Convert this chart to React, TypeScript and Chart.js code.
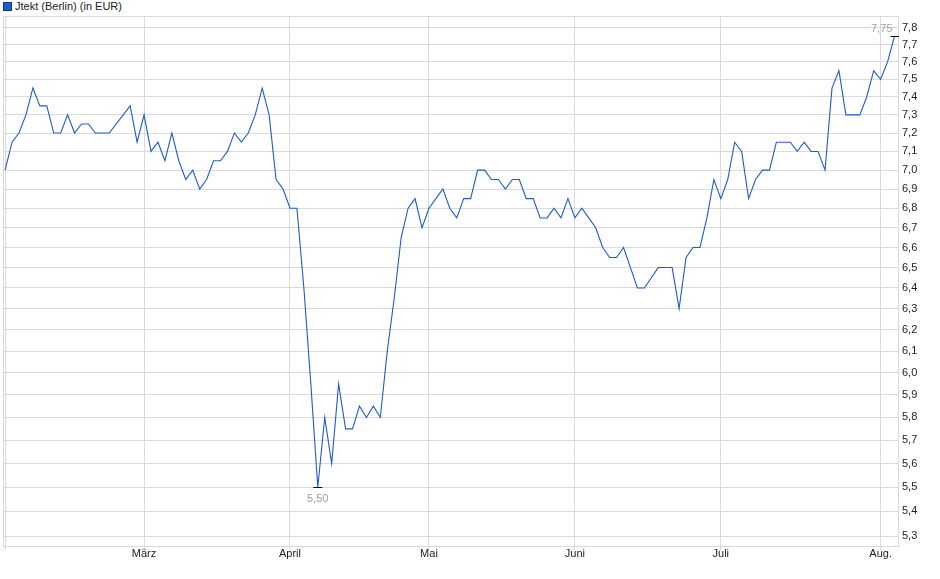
import React, { useEffect, useRef } from "react";
import { Chart, registerables, Plugin } from "chart.js";

Chart.register(...registerables);

// closing prices per month (EUR), one entry per trading day
const febPrices = [7.0, 7.15, 7.2, 7.3, 7.45, 7.35, 7.35, 7.2, 7.2, 7.3, 7.2, 7.25, 7.25, 7.2, 7.2, 7.2, 7.25, 7.3, 7.35, 7.15];
const marPrices = [7.3, 7.1, 7.15, 7.05, 7.2, 7.05, 6.95, 7.0, 6.9, 6.95, 7.05, 7.05, 7.1, 7.2, 7.15, 7.2, 7.3, 7.45, 7.3, 6.95, 6.9];
const aprPrices = [6.8, 6.8, 6.4, 5.95, 5.5, 5.8, 5.6, 5.95, 5.75, 5.75, 5.85, 5.8, 5.85, 5.8, 6.1, 6.35, 6.65, 6.8, 6.85, 6.7];
const mayPrices = [6.8, 6.85, 6.9, 6.8, 6.75, 6.85, 6.85, 7.0, 7.0, 6.95, 6.95, 6.9, 6.95, 6.95, 6.85, 6.85, 6.75, 6.75, 6.8, 6.75, 6.85];
const junPrices = [6.75, 6.8, 6.75, 6.7, 6.6, 6.55, 6.55, 6.6, 6.5, 6.4, 6.4, 6.45, 6.5, 6.5, 6.5, 6.3, 6.55, 6.6, 6.6, 6.75, 6.95];
const julPrices = [6.85, 6.95, 7.15, 7.1, 6.85, 6.95, 7.0, 7.0, 7.15, 7.15, 7.15, 7.1, 7.15, 7.1, 7.1, 7.0, 7.45, 7.55, 7.3, 7.3, 7.3, 7.4, 7.55];
const augPrices = [7.5, 7.6, 7.75];

const monthLabels = ["", "März", "April", "Mai", "Juni", "Juli", "Aug."];
const yTicks = [5.3, 5.4, 5.5, 5.6, 5.7, 5.8, 5.9, 6.0, 6.1, 6.2, 6.3, 6.4, 6.5, 6.6, 6.7, 6.8, 6.9, 7.0, 7.1, 7.2, 7.3, 7.4, 7.5, 7.6, 7.7, 7.8];
const seriesName = "Jtekt (Berlin) (in EUR)";

const months = [febPrices, marPrices, aprPrices, mayPrices, junPrices, julPrices, augPrices];
const prices = months.flat();
const monthStarts: number[] = [];
months.reduce((acc, m) => {
  monthStarts.push(acc);
  return acc + m.length;
}, 0);

const LINE = "#1d5ccb";
const GRID = "#d9d9d9";
const FONT = "Arial, 'Liberation Sans', sans-serif";

const fmt = (v: number, d: number) => v.toFixed(d).replace(".", ",");

// frame on top/left edge plus min/max markers
const extrasPlugin: Plugin<"line"> = {
  id: "extras",
  beforeDatasetsDraw(chart) {
    const { ctx, chartArea } = chart;
    ctx.save();
    ctx.strokeStyle = GRID;
    ctx.lineWidth = 1;
    ctx.beginPath();
    ctx.moveTo(chartArea.left + 0.5, chartArea.bottom);
    ctx.lineTo(chartArea.left + 0.5, chartArea.top + 0.5);
    ctx.lineTo(chartArea.right, chartArea.top + 0.5);
    ctx.stroke();
    ctx.restore();
  },
  afterDatasetsDraw(chart) {
    const { ctx } = chart;
    const xs = chart.scales.x;
    const ys = chart.scales.y;
    let minI = 0;
    let maxI = 0;
    prices.forEach((p, i) => {
      if (p < prices[minI]) minI = i;
      if (p >= prices[maxI]) maxI = i;
    });
    ctx.save();
    ctx.font = `11px ${FONT}`;
    ctx.fillStyle = "#a0a0a0";
    ctx.strokeStyle = "#000";
    ctx.lineWidth = 1;

    const mx = xs.getPixelForValue(minI);
    const my = Math.round(ys.getPixelForValue(prices[minI])) + 0.5;
    ctx.beginPath();
    ctx.moveTo(mx - 4.5, my);
    ctx.lineTo(mx + 4.5, my);
    ctx.stroke();
    ctx.textAlign = "center";
    ctx.textBaseline = "middle";
    ctx.fillText(fmt(prices[minI], 2), mx, my + 11);

    const Mx = xs.getPixelForValue(maxI);
    const My = Math.round(ys.getPixelForValue(prices[maxI])) + 0.5;
    ctx.beginPath();
    ctx.moveTo(Mx - 4, My);
    ctx.lineTo(Mx + 4.5, My);
    ctx.stroke();
    ctx.textAlign = "right";
    ctx.fillText(fmt(prices[maxI], 2), Mx - 2, My - 8);
    ctx.restore();
  },
};

const PriceChart: React.FC = () => {
  const canvasRef = useRef<HTMLCanvasElement | null>(null);
  const chartRef = useRef<Chart<"line"> | null>(null);

  useEffect(() => {
    if (!canvasRef.current) return;
    const ctx = canvasRef.current.getContext("2d");
    if (!ctx) return;
    if (chartRef.current) chartRef.current.destroy();

    Chart.defaults.font.family = FONT;
    Chart.defaults.font.size = 11;

    chartRef.current = new Chart(ctx, {
      type: "line",
      data: {
        datasets: [
          {
            label: seriesName,
            data: prices.map((p, i) => ({ x: i, y: p })),
            borderColor: LINE,
            borderWidth: 1.1,
            pointRadius: 0,
            tension: 0,
            fill: false,
          },
        ],
      },
      options: {
        animation: false,
        responsive: true,
        maintainAspectRatio: false,
        layout: { padding: { top: 16, left: 3, right: 0, bottom: 0 } },
        plugins: {
          legend: { display: false },
          tooltip: { enabled: false },
        },
        scales: {
          x: {
            type: "linear",
            min: -0.3,
            max: prices.length - 0.5,
            afterBuildTicks: (scale: any) => {
              scale.ticks = monthStarts.map((v) => ({ value: v }));
            },
            afterFit: (scale: any) => {
              scale.height = 33;
            },
            grid: { color: GRID, tickLength: 4, drawTicks: true },
            border: { display: true, color: GRID },
            ticks: {
              autoSkip: false,
              maxRotation: 0,
              padding: -3,
              color: "#222",
              font: { size: 11 },
              callback: (v: any) => {
                const k = monthStarts.indexOf(Number(v));
                return k >= 0 ? monthLabels[k] : "";
              },
            },
          },
          y: {
            type: "logarithmic",
            position: "right",
            min: 5.26,
            max: 7.87,
            afterBuildTicks: (scale: any) => {
              scale.ticks = yTicks.map((v) => ({ value: v }));
            },
            afterFit: (scale: any) => {
              scale.width = 42;
            },
            grid: { color: GRID, drawTicks: false },
            border: { display: true, color: GRID },
            ticks: {
              autoSkip: false,
              padding: 4,
              color: "#222",
              font: { size: 11 },
              callback: (v: any) => fmt(Number(v), 1),
            },
          },
        },
      },
      plugins: [extrasPlugin],
    });

    return () => {
      if (chartRef.current) {
        chartRef.current.destroy();
        chartRef.current = null;
      }
    };
  }, []);

  return <canvas ref={canvasRef}></canvas>;
};

export default function App() {
  return (
    <div style={{ position: "fixed", left: 0, top: 0, width: 940, height: 579, background: "#fff" }}>
      <div
        style={{
          position: "absolute",
          left: 3,
          top: 0,
          font: `11px ${FONT}`,
          lineHeight: "13px",
          color: "#222",
          display: "flex",
          alignItems: "center",
        }}
      >
        <span
          style={{
            display: "inline-block",
            width: 7,
            height: 7,
            background: LINE,
            border: "1px solid #0d3a8c",
            marginRight: 3,
          }}
        />
        {seriesName}
      </div>
      <div style={{ position: "absolute", left: 0, top: 0, width: 940, height: 579 }}>
        <PriceChart />
      </div>
    </div>
  );
}
